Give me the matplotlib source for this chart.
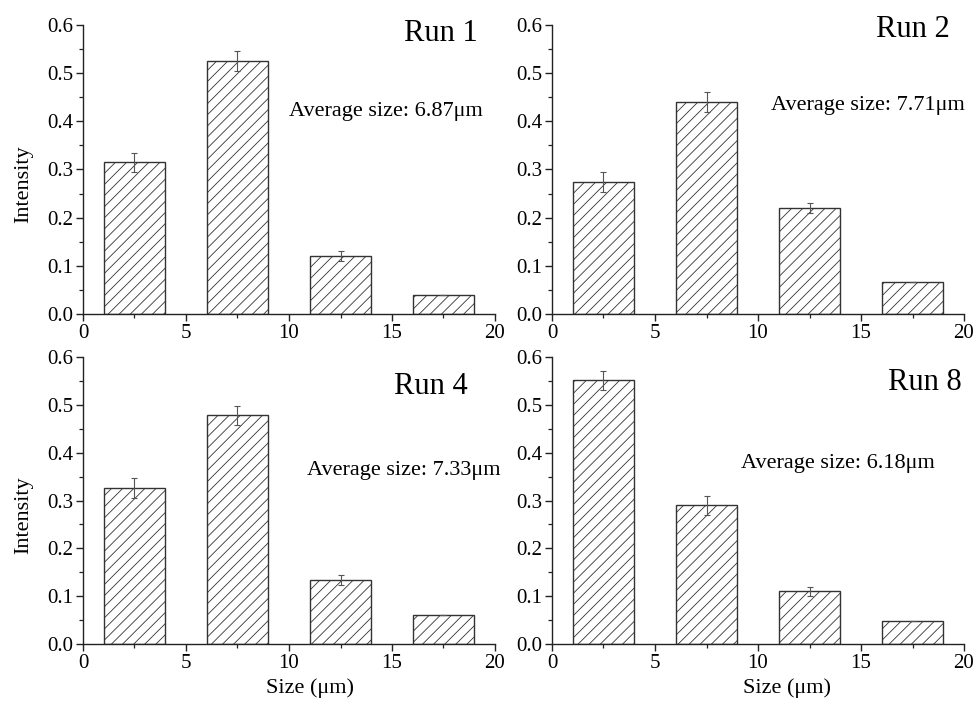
import matplotlib
matplotlib.use('Agg')
import matplotlib.pyplot as plt
from matplotlib.ticker import MultipleLocator

plt.rcParams['font.family'] = ['Liberation Serif', 'DejaVu Serif']
plt.rcParams['hatch.linewidth'] = 0.6
plt.rcParams['hatch.color'] = '#444444'

# bin centres (um)
sizes = [2.5, 7.5, 12.5, 17.5]

runs = ['Run 1', 'Run 2', 'Run 4', 'Run 8']
averages = ['6.87', '7.71', '7.33', '6.18']

run1 = [0.315, 0.525, 0.120, 0.040]
run2 = [0.274, 0.440, 0.220, 0.067]
run4 = [0.326, 0.478, 0.134, 0.061]
run8 = [0.551, 0.290, 0.110, 0.048]

err1 = [0.020, 0.020, 0.011, 0.0]
err2 = [0.020, 0.020, 0.010, 0.0]
err4 = [0.020, 0.020, 0.011, 0.0]
err8 = [0.020, 0.020, 0.010, 0.0]

values = [run1, run2, run4, run8]
errors = [err1, err2, err4, err8]

# text placement per panel (data coords): run label centre, average label centre
run_pos = [(17.35, 0.567), (17.5, 0.575), (16.9, 0.523), (18.1, 0.531)]
avg_pos = [(14.7, 0.411), (15.35, 0.4235), (15.55, 0.353), (13.9, 0.368)]

fig = plt.figure(figsize=(9.79, 7.06), dpi=100)

W = 412 / 979
H_top = 289 / 706
H_bot = 287 / 706
boxes = [
    (83 / 979, 1 - 314 / 706, W, H_top),
    (552 / 979, 1 - 314 / 706, W, H_top),
    (83 / 979, 1 - 644 / 706, W, H_bot),
    (552 / 979, 1 - 644 / 706, W, H_bot),
]

for i, box in enumerate(boxes):
    ax = fig.add_axes(box)
    ax.bar(sizes, values[i], width=3, color='white', edgecolor='#333333',
           linewidth=1.0, hatch='///', yerr=errors[i],
           error_kw=dict(ecolor='#555555', elinewidth=0.8, capsize=2.5, capthick=0.8))
    ax.set_xlim(0, 20)
    ax.set_ylim(0, 0.6)
    ax.xaxis.set_major_locator(MultipleLocator(5))
    ax.xaxis.set_minor_locator(MultipleLocator(2.5))
    ax.yaxis.set_major_locator(MultipleLocator(0.1))
    ax.yaxis.set_minor_locator(MultipleLocator(0.05))
    ax.yaxis.set_major_formatter(plt.FormatStrFormatter('%.1f'))
    for s in ['top', 'right']:
        ax.spines[s].set_visible(False)
    for s in ['left', 'bottom']:
        ax.spines[s].set_linewidth(1.0)
        ax.spines[s].set_color('#222222')
    ax.tick_params(which='major', direction='out', length=5, width=1.0,
                   labelsize=15, color='#222222', pad=2)
    ax.tick_params(which='minor', direction='out', length=3, width=0.9,
                   color='#222222')

    ax.text(run_pos[i][0], run_pos[i][1], runs[i], fontsize=22,
            ha='center', va='baseline')
    ax.text(avg_pos[i][0], avg_pos[i][1], 'Average size: ' + averages[i] + 'μm',
            fontsize=16, ha='center', va='baseline')

    if i in (0, 2):
        ax.set_ylabel('Intensity', fontsize=16)
        ax.yaxis.set_label_coords(-0.12, 0.45)
    if i in (2, 3):
        ax.set_xlabel('Size (μm)', fontsize=16)
        ax.xaxis.set_label_coords(0.55 if i == 2 else 0.57, -0.12)

fig.savefig('out.png', dpi=100)
